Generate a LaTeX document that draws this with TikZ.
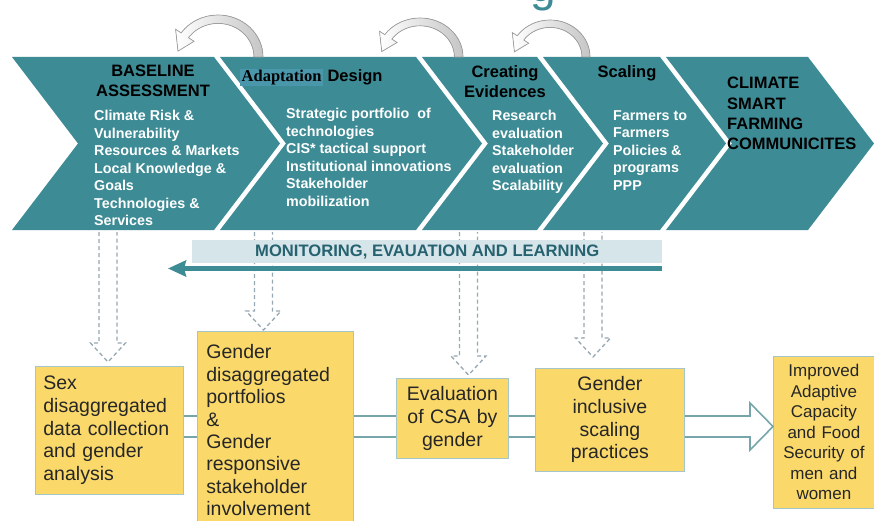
\documentclass[tikz,border=0pt]{standalone}
\usepackage{fontspec}
\setmainfont{Liberation Sans}
\newfontfamily\serifbf{Liberation Serif}
\usetikzlibrary{arrows.meta,calc,positioning}

\definecolor{csateal}{RGB}{61,139,149}
\definecolor{csahl}{RGB}{74,150,170}
\definecolor{meldark}{RGB}{38,98,112}
\definecolor{melband}{RGB}{214,229,233}
\definecolor{boxyellow}{RGB}{250,217,106}
\definecolor{boxedge}{RGB}{165,198,200}
\definecolor{linkteal}{RGB}{118,165,170}
\definecolor{dashgray}{RGB}{150,168,178}

\begin{document}
\begin{tikzpicture}[x=1pt,y=-1pt,
    chev/.style={fill=csateal},
    head/.style={font=\fontsize{16.5}{20}\selectfont\bfseries,align=center,inner sep=0},
    body/.style={font=\fontsize{14.3}{17.5}\selectfont\bfseries,text=white,align=left,inner sep=0,anchor=north west},
    gbox/.style={draw=boxedge,line width=0.8pt,fill=boxyellow,font=\fontsize{19.5}{22.7}\selectfont,text=black!85,inner sep=0,anchor=north west},
    link/.style={draw=linkteal,line width=1.6pt},
    dasharr/.style={draw=dashgray,line width=1.3pt,dash pattern=on 4pt off 3pt},
    loopy/.style={draw=gray!75,line width=0.7pt,left color=white,right color=gray!45}]
  \useasboundingbox (0,0) rectangle (874,521);
  \clip (0,0) rectangle (874,521);
  \fill[white] (0,0) rectangle (874,521);
  % titolo tagliato in alto
  \node[anchor=base,text=csateal,font=\fontsize{46}{46}\selectfont,inner sep=0] (ttl) at (543,1.5) {g};
  % frecce a chevron
  \foreach \l/\r in {12/214, 220/416, 422/537, 543/660, 666/808}
    \fill[chev] (\l,57) -- (\r,57) -- ({\r+66},143.5) -- (\r,230) -- (\l,230) -- ({\l+66},143.5) -- cycle;
  % frecce circolari
  \foreach \cx/\rx/\ry in {218/45/42, 420/43/39, 550/40/37}
    \filldraw[loopy,shift={(\cx,57)},xscale=\rx,yscale=-\ry]
      (0:1) arc[start angle=0,end angle=145,radius=1] -- (145:1.15) -- (171:0.9)
      -- (145:0.65) -- (145:0.8) arc[start angle=145,end angle=0,radius=0.8] -- cycle;
  % testi
  \node[head,anchor=north] (base) at (153,65) {BASELINE\\ASSESSMENT};
  \node[body] (basebody) at (94,110) {Climate Risk \&\\Vulnerability\\Resources \& Markets\\Local Knowledge \&\\Goals\\Technologies \&\\Services};
  \node[head,anchor=west] (adapt) at (240,77.5) {\setlength{\fboxsep}{1.5pt}\colorbox{csahl}{\serifbf\bfseries Adaptation}\ Design};
  \node[body] (adaptbody) at (286,108) {Strategic portfolio\ \ of\\technologies\\CIS* tactical support\\Institutional innovations\\Stakeholder\\mobilization};
  \node[head,anchor=north] (evid) at (505,65) {Creating\\Evidences};
  \node[body] (evidbody) at (492,110) {Research\\evaluation\\Stakeholder\\evaluation\\Scalability};
  \node[head,anchor=north] (scal) at (627,65) {Scaling};
  \node[body] (scalbody) at (613,110) {Farmers to\\Farmers\\Policies \&\\programs\\PPP};
  \node[head,anchor=north west,align=left,font=\fontsize{16.5}{20.3}\selectfont\bfseries] (csf) at (727,77) {CLIMATE\\SMART\\FARMING\\COMMUNICITES};
  % riquadri gialli
  \node[gbox,minimum width=148pt,minimum height=128pt,text width=132pt,align=left] (b1) at (35,366) {Sex\\disaggregated\\data collection\\and gender\\analysis};
  \node[gbox,minimum width=156pt,minimum height=198pt,text width=138pt,align=left,font=\fontsize{19.5}{22.4}\selectfont] (b2) at (197,331) {Gender\\disaggregated\\portfolios\\\&\\Gender\\responsive\\stakeholder\\involvement};
  \node[gbox,minimum width=112pt,minimum height=80pt,text width=104pt,align=center] (b3) at (396,378) {Evaluation\\of CSA by\\gender};
  \node[gbox,minimum width=149pt,minimum height=103pt,text width=140pt,align=center] (b4) at (535,368) {Gender\\inclusive\\scaling\\practices};
  \node[gbox,minimum width=101pt,minimum height=152pt,text width=95pt,align=center,font=\fontsize{17}{20.5}\selectfont] (b5) at (773,356) {Improved\\Adaptive\\Capacity\\and Food\\Security of\\men and\\women};
  % frecce tratteggiate
  \foreach \cx/\tgt/\gap in {108/b1/4, 263.5/b2/1, 468.5/b3/3, 593/b4/11}
    \draw[dasharr] ({\cx-9},232) -- ($(\tgt.north -| \cx,0)+(-9,-19-\gap)$) -- ++(-8.5,0)
      -- ($(\tgt.north -| \cx,0)+(0,-\gap)$) -- ++(17.5,-19) -- ++(-8.5,0) -- ({\cx+9},232);
  % monitoraggio
  \node[fill=melband,minimum width=470pt,minimum height=23pt,inner sep=0,anchor=north west,text=meldark,font=\fontsize{16.6}{18}\selectfont\bfseries] (mel) at (192,240) {MONITORING, EVAUATION AND LEARNING};
  \coordinate (melend) at (168,268.5);
  \draw[csateal,line width=4.5pt,-{Stealth[length=18pt,width=16pt,inset=2pt]}] (mel.south east |- melend) -- (melend);
  % collegamenti
  \coordinate (lktop) at (0,416);
  \coordinate (lkbot) at (0,437);
  \foreach \a/\b in {b1/b2, b2/b3, b3/b4} {
    \draw[link] (\a.east |- lktop) -- (\b.west |- lktop);
    \draw[link] (\a.east |- lkbot) -- (\b.west |- lkbot);
  }
  \draw[link,line join=miter] (b4.east |- lktop) -- (750,416) -- (750,403) -- (b5.west |- 0,426.5)
    -- (750,450) -- (750,437) -- (b4.east |- lkbot);
\end{tikzpicture}
\end{document}
